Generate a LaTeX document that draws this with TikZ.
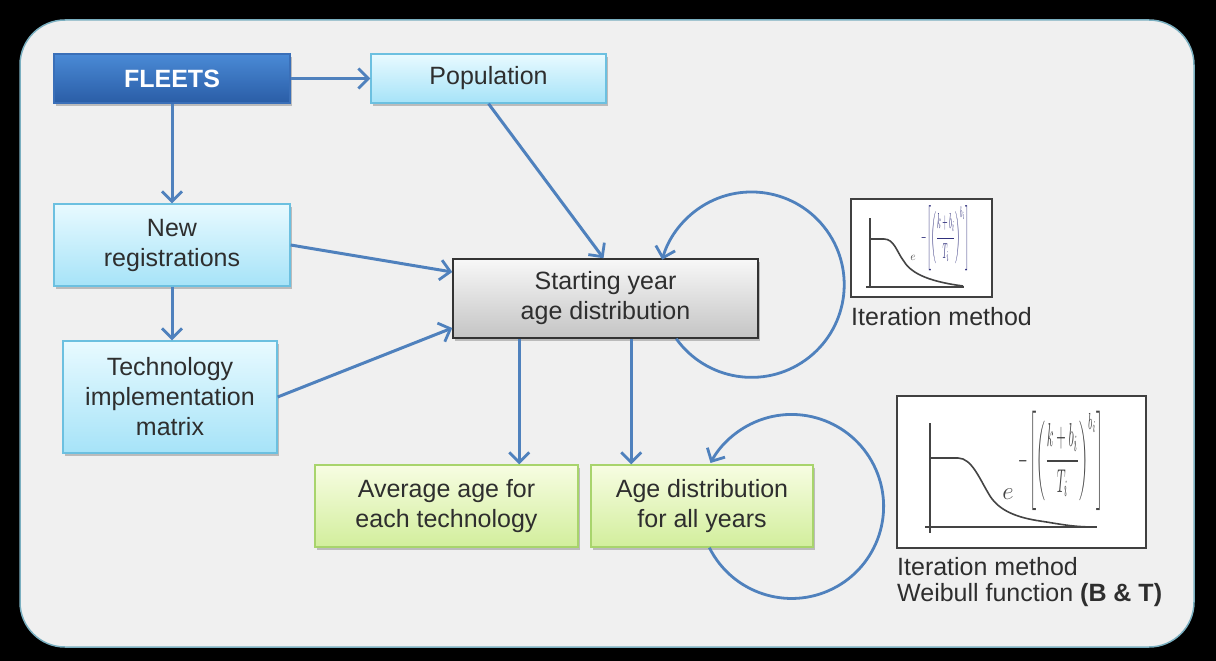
\documentclass[tikz,border=0pt]{standalone}
\usepackage{fontspec}
\setmainfont{Liberation Sans}
\usepackage{graphicx}
\usepackage{amsmath}
\usetikzlibrary{arrows.meta,calc,shadows}
\definecolor{arrowblue}{HTML}{4F81BD}
\definecolor{txt}{HTML}{2E2E2E}
\definecolor{panel}{HTML}{F0F0F0}
\definecolor{panelbord}{HTML}{7AAFC0}
\definecolor{bluetop}{HTML}{E8FAFF}
\definecolor{bluebot}{HTML}{A6E3F8}
\definecolor{bluebord}{HTML}{6CC0E0}
\definecolor{darktop}{HTML}{4A8AD6}
\definecolor{darkbot}{HTML}{2A5DA6}
\definecolor{darkbord}{HTML}{3A6FB8}
\definecolor{graytop}{HTML}{F8F8F8}
\definecolor{graybot}{HTML}{C4C4C4}
\definecolor{greentop}{HTML}{F7FDE2}
\definecolor{greenbot}{HTML}{D2EE9C}
\definecolor{greenbord}{HTML}{A8D46C}
\definecolor{imgline}{HTML}{444444}
\begin{document}
\begin{tikzpicture}[x=1pt,y=-1pt,
  arr/.style={draw=arrowblue, line width=3pt, -{Straight Barb[length=10pt,width=20pt,line width=2.8pt]}},
  loop/.style={draw=arrowblue, line width=2.8pt, -{Straight Barb[length=10pt,width=20pt,line width=2.8pt]}},
  box/.style={rectangle, align=center, font=\fontsize{25}{30}\selectfont, text=txt, inner sep=0pt,
    drop shadow={shadow xshift=2pt, shadow yshift=-3pt, fill=black, opacity=0.22}},
  bluebox/.style={box, draw=bluebord, line width=1.3pt, top color=bluetop, bottom color=bluebot},
  darkbox/.style={box, draw=darkbord, line width=1.3pt, top color=darktop, bottom color=darkbot, text=white, font=\fontsize{25}{30}\selectfont\bfseries},
  graybox/.style={box, draw=black!80, line width=1.5pt, top color=graytop, bottom color=graybot},
  greenbox/.style={box, draw=greenbord, line width=1.3pt, top color=greentop, bottom color=greenbot},
  imgbox/.style={rectangle, draw=black!75, fill=white, line width=2pt, inner sep=0pt},
  axis/.style={draw=imgline, line width=1.8pt},
  curve/.style={draw=imgline, line width=1.6pt},
  lab/.style={font=\fontsize{25}{30}\selectfont, text=txt, inner sep=0pt, anchor=base west}
]
\fill[black] (0,0) rectangle (1216,661);
\useasboundingbox (0,0) rectangle (1216,661);
\filldraw[fill=panel, draw=panelbord, line width=1.5pt, rounded corners=45pt] (20,20) rectangle (1194,647);

% nodes
\node[darkbox, minimum width=236pt, minimum height=49pt] (fleets) at (172,78.5) {FLEETS};
\node[bluebox, minimum width=235pt, minimum height=49pt] (pop) at (488.5,78.5) {Population};
\node[bluebox, minimum width=236pt, minimum height=82pt] (newreg) at (172,245) {New\\registrations};
\node[bluebox, minimum width=214pt, minimum height=112pt] (tech) at (170,397) {Technology\\implementation\\matrix};
\node[graybox, minimum width=305pt, minimum height=79pt] (start) at (605.5,298.5) {Starting year\\age distribution};
\node[greenbox, minimum width=263pt, minimum height=82pt] (avg) at (446.5,506) {Average age for\\each technology};
\node[greenbox, minimum width=222pt, minimum height=82pt] (agedist) at (702,506) {Age distribution\\for all years};

% connectors
\draw[arr] (fleets.east) -- (pop.west);
\draw[arr] (fleets.south) -- (newreg.north);
\draw[arr] (newreg.south) -- (newreg.south |- tech.north);
\draw[arr] (pop.south) -- ($(start.north)+(-2,0)$);
\draw[arr] (newreg.east) -- ($(start.west)+(0,-26.5)$);
\draw[arr] (tech.east) -- ($(start.west)+(0,29.5)$);
\coordinate (s1) at ($(start.south west)+(67,0)$);
\coordinate (s2) at ($(start.south west)+(179,0)$);
\draw[arr] (s1) -- (s1 |- avg.north);
\draw[arr] (s2) -- (s2 |- agedist.north);
% self loops
\draw[loop] ($(start.south west)+(224,0)$) arc[start angle=144.3, end angle=-164.4, radius=92.7];
\draw[loop] ($(agedist.south west)+(119,0)$) arc[start angle=153.4, end angle=-151.8, radius=92];

% small image
\node[imgbox, minimum width=141pt, minimum height=98pt] (img1) at (921.5,248) {};
\draw[axis] (870,218) -- (870,288);
\draw[axis] (866,287) -- (964,287);
\draw[curve] (870,239) -- (884,239) .. controls (894,239) and (897,252) .. (903,260) .. controls (910,272) and (925,281) .. (963,286);
\node[text=imgline, inner sep=0pt, font=\fontsize{12}{12}\selectfont] (e1) at (913,258) {$e$};
\node[text=imgline!70!blue, inner sep=0pt] (x1) at (945,238) {\resizebox{48pt}{38pt}{$-\left[\left(\dfrac{k+b_i}{T_i}\right)^{b_i}\right]$}};
\node[lab] (l1) at (851,325) {Iteration method};

% big image
\node[imgbox, minimum width=249pt, minimum height=152pt] (img2) at (1021.5,472) {};
\draw[axis] (930,423) -- (930,533);
\draw[axis] (925,527) -- (1097,527);
\draw[curve] (930,458) -- (958,458) .. controls (972,458) and (980,480) .. (990,496) .. controls (1000,512) and (1020,518) .. (1040,521) .. controls (1060,524) and (1072,527) .. (1095,527);
\node[text=imgline, inner sep=0pt, font=\fontsize{28}{28}\selectfont] (e2) at (1008,494) {$e$};
\node[text=imgline, inner sep=0pt] (x2) at (1061,461) {\resizebox{86pt}{58pt}{$-\left[\left(\dfrac{k+b_i}{T_i}\right)^{b_i}\right]$}};
\node[lab] (l2) at (897,575) {Iteration method};
\node[lab] (l3) at (897,601) {Weibull function \textbf{(B \& T)}};
\end{tikzpicture}
\end{document}
